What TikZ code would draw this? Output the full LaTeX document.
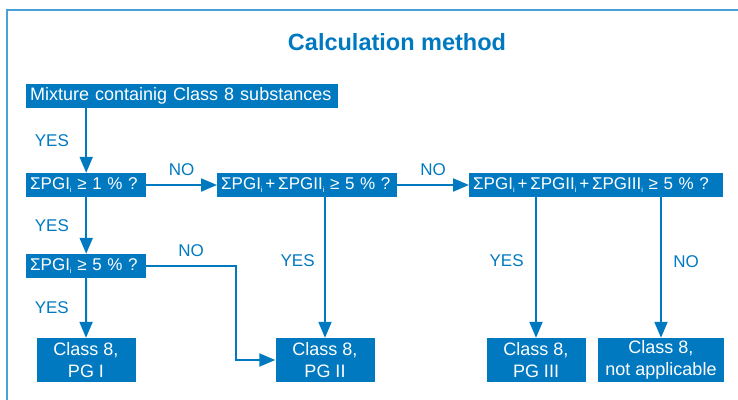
\documentclass[tikz,border=0pt]{standalone}
\usepackage{fontspec}
\setmainfont{Liberation Sans}
\usetikzlibrary{positioning, arrows.meta}

\definecolor{dgblue}{RGB}{0,121,193}
\definecolor{framebl}{RGB}{74,160,216}

\newcommand{\subi}{\raisebox{-3.5pt}{\fontsize{7.5}{8}\selectfont i}}

\begin{document}
\begin{tikzpicture}[x=1pt, y=-1pt,
        % Question box (one line, text on the left)
        quest/.style={
            rectangle, fill=dgblue, text=white,
            anchor=west, inner xsep=4pt, inner ysep=0pt,
            minimum height=24pt, align=left,
            font=\fontsize{18}{22}\selectfont
        },
        % Sum questions, a little tighter
        sumq/.style={quest, font=\fontsize{17}{22}\selectfont},
        % Result box (two lines)
        result/.style={
            rectangle, fill=dgblue, text=white,
            minimum height=44pt, inner sep=0pt, align=center,
            font=\fontsize{18}{22}\selectfont
        },
        % Connector with a solid head
        link/.style={
            draw=dgblue, line width=2pt,
            -{Triangle[length=16pt, width=13pt]}
        },
        % YES / NO labels
        lbl/.style={text=dgblue, font=\fontsize{17}{17}\selectfont}
    ]
        \useasboundingbox (0,0) rectangle (738,399);

        % Frame
        \draw[framebl, line width=2pt] (7,405) -- (7,10) -- (745,10);

        % Title
        \node[text=dgblue, font=\fontsize{23.5}{26}\selectfont\bfseries] (title) at (397,42) {Calculation method};

        % Nodes
        \node[quest, text width=304pt] (mix) at (26,96) {Mixture containig Class 8 substances};
        \node[sumq, text width=112pt] (q1) at (26,185) {\mbox{ΣPGI\subi{} ≥ 1 \% ?}};
        \node[sumq, text width=172pt] (q2) at (217,185) {\mbox{ΣPGI\subi\,+\,ΣPGII\subi{} ≥ 5 \% ?}};
        \node[sumq, text width=246pt] (q3) at (469,185) {\mbox{ΣPGI\subi\,+\,ΣPGII\subi\,+\,ΣPGIII\subi{} ≥ 5 \% ?}};
        \node[sumq, text width=112pt] (q4) at (26,266) {\mbox{ΣPGI\subi{} ≥ 5 \% ?}};

        \node[result, minimum width=99pt] (pg1) at (86,360) {Class 8,\\PG I};
        \node[result, minimum width=99pt] (pg2) at (325,360) {Class 8,\\PG II};
        \node[result, minimum width=99pt] (pg3) at (536,360) {Class 8,\\PG III};
        \node[result, minimum width=126pt] (na) at (661,360) {Class 8,\\not applicable};

        \coordinate (kink) at (236,266);

        % Connections
        \draw[link] (mix.south -| q1) -- node[lbl, left=13pt] (yes1) {YES} (q1.north);
        \draw[link] (q1.south) -- node[lbl, left=13pt] (yes2) {YES} (q4.north);
        \draw[link] (q4.south) -- node[lbl, left=13pt] (yes3) {YES} (pg1.north);
        \draw[link] (q1.east) -- node[lbl, above=5pt] (no1) {NO} (q2.west);
        \draw[link] (q2.east) -- node[lbl, above=5pt] (no2) {NO} (q3.west);
        \draw[link] (q4.east) -- node[lbl, above=5pt] (no3) {NO} (q4.east -| kink) |- (pg2.west);
        \draw[link] (pg2.north |- q2.south) -- node[lbl, left=6pt, pos=0.45] (yes4) {YES} (pg2.north);
        \draw[link] (pg3.north |- q3.south) -- node[lbl, left=8pt, pos=0.45] (yes5) {YES} (pg3.north);
        \draw[link] (na.north |- q3.south) -- node[lbl, right=8pt, pos=0.46] (no4) {NO} (na.north);

    \end{tikzpicture}
\end{document}
